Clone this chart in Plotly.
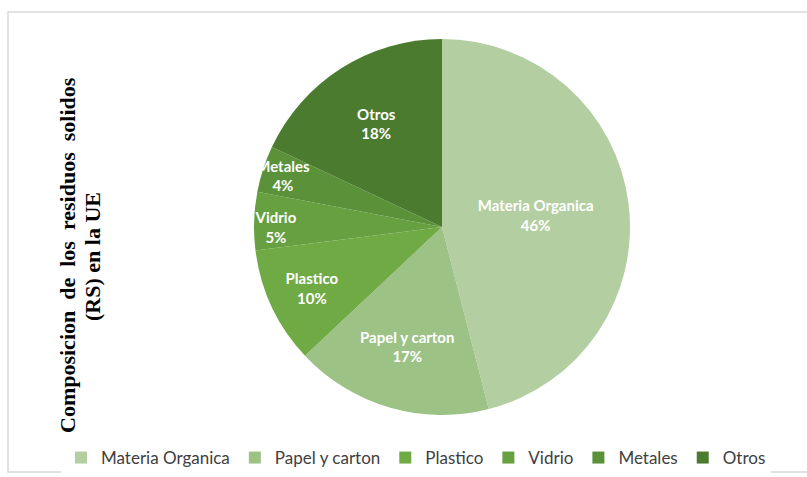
import plotly.graph_objects as go

categories = ["Materia Organica", "Papel y carton", "Plastico", "Vidrio", "Metales", "Otros"]
values = [46, 17, 10, 5, 4, 18]
colors = ["#b3cfa1", "#9cc286", "#6faa45", "#66a040", "#5a9139", "#4b7b2e"]
title_lines = ["<b>Composicion  de  los  residuos  solidos</b>", "<b>(RS) en la UE</b>"]

W, H = 807, 477
cx, cy, r = 442, 227, 188

fig = go.Figure(go.Pie(
    labels=categories,
    values=values,
    sort=False,
    direction="clockwise",
    rotation=0,
    marker=dict(colors=colors, line=dict(width=0)),
    textinfo="label+percent",
    texttemplate="<b>%{label}</b><br><b>%{percent:.0%}</b>",
    textposition="inside",
    insidetextorientation="horizontal",
    textfont=dict(family="Lato, Open Sans, sans-serif", size=15, color="white"),
    domain=dict(x=[(cx - r) / W, (cx + r) / W], y=[1 - (cy + r) / H, 1 - (cy - r) / H]),
    hoverinfo="label+percent",
))

title_font = dict(family="Liberation Serif, Times New Roman, serif", size=22, color="black")
annotations = [
    dict(text=title_lines[0], x=67 / W, y=1 - 255 / H, xref="paper", yref="paper",
         xanchor="center", yanchor="middle", textangle=-90, showarrow=False, font=title_font),
    dict(text=title_lines[1], x=92 / W, y=1 - 257 / H, xref="paper", yref="paper",
         xanchor="center", yanchor="middle", textangle=-90, showarrow=False, font=title_font),
]

fig.update_layout(
    width=W, height=H,
    margin=dict(l=0, r=0, t=0, b=0, autoexpand=False),
    paper_bgcolor="white",
    plot_bgcolor="white",
    showlegend=True,
    uniformtext=dict(minsize=15, mode="show"),
    legend=dict(
        orientation="h",
        x=416 / W, xanchor="center",
        y=1 - 458 / H, yanchor="middle",
        font=dict(family="Lato, Open Sans, sans-serif", size=17, color="#404040"),
        itemwidth=30,
        tracegroupgap=0,
    ),
    annotations=annotations,
    shapes=[dict(
        type="path", xref="paper", yref="paper",
        path=f"M 1.02 {1 - 12 / H} L {8 / W} {1 - 12 / H} L {8 / W} {1 - 472 / H} L 1.02 {1 - 472 / H}",
        line=dict(color="#d9d9d9", width=1.5),
        layer="below",
    )],
)

fig.write_html("out.html", post_script="document.body.style.margin='0';",
               config={"displayModeBar": False})
